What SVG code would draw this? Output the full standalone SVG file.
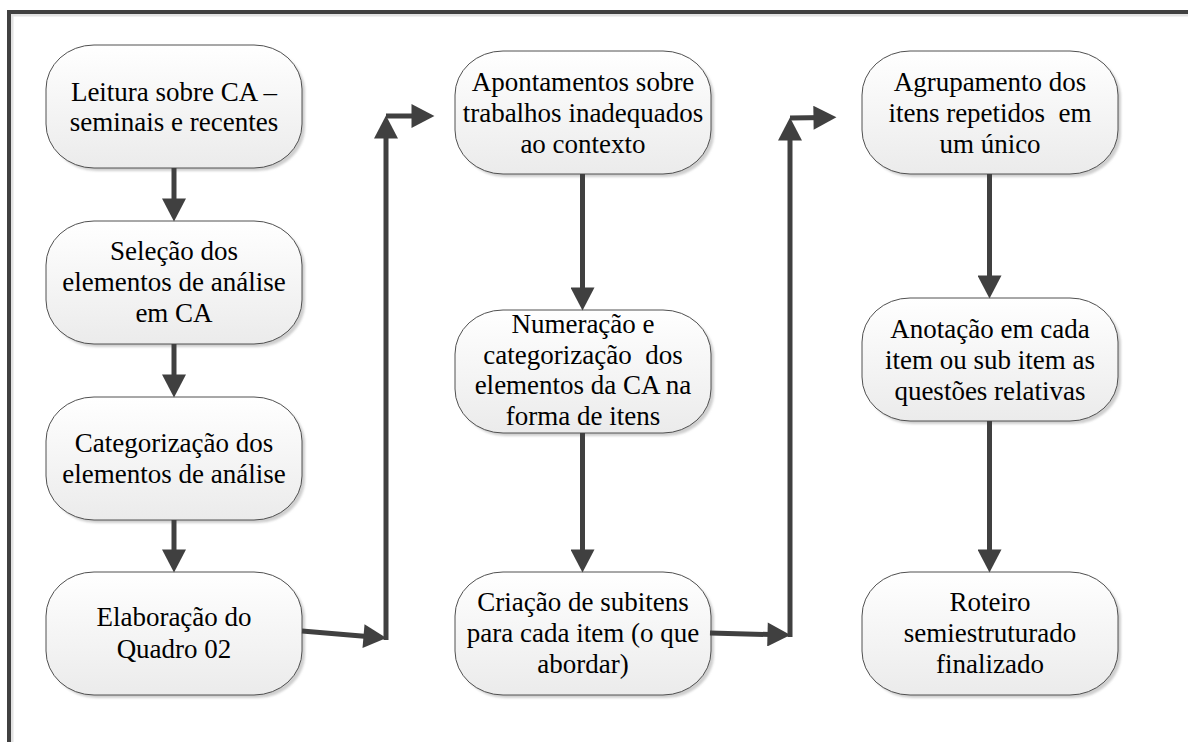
<svg xmlns="http://www.w3.org/2000/svg" width="1188" height="742" viewBox="0 0 1188 742">
<defs>
<linearGradient id="g" x1="0" y1="0" x2="0" y2="1">
<stop offset="0" stop-color="#ffffff"/>
<stop offset="1" stop-color="#ebebeb"/>
</linearGradient>
<filter id="b" x="-10%" y="-10%" width="120%" height="120%"><feGaussianBlur stdDeviation="1.2"/></filter>
<marker id="ah" markerUnits="userSpaceOnUse" markerWidth="24" markerHeight="24" viewBox="0 0 22 23" refX="12" refY="11.5" orient="auto">
<path d="M0,0 L22,11.5 L0,23 z" fill="#404040"/>
</marker>
<rect id="sh" width="256" height="123" rx="48" ry="44" fill="#cfcfcf" filter="url(#b)"/>
<rect id="bx" width="256" height="123" rx="48" ry="44" fill="url(#g)" stroke="#505050" stroke-width="1"/>
</defs>
<rect width="1188" height="742" fill="#fff"/>
<g id="frame">
<line x1="13" y1="15" x2="1188" y2="15" stroke="#e2e2e2" stroke-width="3"/>
<line x1="12" y1="14" x2="12" y2="742" stroke="#e2e2e2" stroke-width="3"/>
<path d="M9,742 L9,12 L1188,12" stroke="#404040" stroke-width="4" fill="none"/>
</g>
<g id="n1"><use href="#sh" x="49" y="48"/><use href="#bx" x="46" y="45"/>
<text style="font-family:'Liberation Serif','Times New Roman',Tinos,serif !important;font-size:27px" text-anchor="middle" x="174" y="101">Leitura sobre CA –</text><text style="font-family:'Liberation Serif','Times New Roman',Tinos,serif !important;font-size:27px" text-anchor="middle" x="174" y="131">seminais e recentes</text></g>
<g id="n2"><use href="#sh" x="49" y="224"/><use href="#bx" x="46" y="221"/>
<text style="font-family:'Liberation Serif','Times New Roman',Tinos,serif !important;font-size:27px" text-anchor="middle" x="174" y="260">Seleção dos</text><text style="font-family:'Liberation Serif','Times New Roman',Tinos,serif !important;font-size:27px" text-anchor="middle" x="174" y="291">elementos de análise</text><text style="font-family:'Liberation Serif','Times New Roman',Tinos,serif !important;font-size:27px" text-anchor="middle" x="174" y="322">em CA</text></g>
<g id="n3"><use href="#sh" x="49" y="400"/><use href="#bx" x="46" y="397"/>
<text style="font-family:'Liberation Serif','Times New Roman',Tinos,serif !important;font-size:27px" text-anchor="middle" x="174" y="452">Categorização dos</text><text style="font-family:'Liberation Serif','Times New Roman',Tinos,serif !important;font-size:27px" text-anchor="middle" x="174" y="483">elementos de análise</text></g>
<g id="n4"><use href="#sh" x="49" y="575"/><use href="#bx" x="46" y="572"/>
<text style="font-family:'Liberation Serif','Times New Roman',Tinos,serif !important;font-size:27px" text-anchor="middle" x="174" y="626">Elaboração do</text><text style="font-family:'Liberation Serif','Times New Roman',Tinos,serif !important;font-size:27px" text-anchor="middle" x="174" y="658">Quadro 02</text></g>
<g id="n5"><use href="#sh" x="458" y="54"/><use href="#bx" x="455" y="51"/>
<text style="font-family:'Liberation Serif','Times New Roman',Tinos,serif !important;font-size:27px" text-anchor="middle" x="583" y="90.5">Apontamentos sobre</text><text style="font-family:'Liberation Serif','Times New Roman',Tinos,serif !important;font-size:27px" text-anchor="middle" x="583" y="121.5">trabalhos inadequados</text><text style="font-family:'Liberation Serif','Times New Roman',Tinos,serif !important;font-size:27px" text-anchor="middle" x="583" y="152.5">ao contexto</text></g>
<g id="n6"><use href="#sh" x="458" y="313"/><use href="#bx" x="455" y="310"/>
<text style="font-family:'Liberation Serif','Times New Roman',Tinos,serif !important;font-size:27px" text-anchor="middle" x="583" y="333">Numeração e</text><text style="font-family:'Liberation Serif','Times New Roman',Tinos,serif !important;font-size:27px" text-anchor="middle" xml:space="preserve" x="583" y="363.5">categorização  dos</text><text style="font-family:'Liberation Serif','Times New Roman',Tinos,serif !important;font-size:27px" text-anchor="middle" x="583" y="394">elementos da CA na</text><text style="font-family:'Liberation Serif','Times New Roman',Tinos,serif !important;font-size:27px" text-anchor="middle" x="583" y="424.5">forma de itens</text></g>
<g id="n7"><use href="#sh" x="458" y="575"/><use href="#bx" x="455" y="572"/>
<text style="font-family:'Liberation Serif','Times New Roman',Tinos,serif !important;font-size:27px" text-anchor="middle" x="583" y="610.5">Criação de subitens</text><text style="font-family:'Liberation Serif','Times New Roman',Tinos,serif !important;font-size:27px" text-anchor="middle" x="583" y="642">para cada item (o que</text><text style="font-family:'Liberation Serif','Times New Roman',Tinos,serif !important;font-size:27px" text-anchor="middle" x="583" y="672.5">abordar)</text></g>
<g id="n8"><use href="#sh" x="865" y="54"/><use href="#bx" x="862" y="51"/>
<text style="font-family:'Liberation Serif','Times New Roman',Tinos,serif !important;font-size:27px" text-anchor="middle" x="990" y="90.5">Agrupamento dos</text><text style="font-family:'Liberation Serif','Times New Roman',Tinos,serif !important;font-size:27px" text-anchor="middle" xml:space="preserve" x="990" y="121.5">itens repetidos  em</text><text style="font-family:'Liberation Serif','Times New Roman',Tinos,serif !important;font-size:27px" text-anchor="middle" x="990" y="152.5">um único</text></g>
<g id="n9"><use href="#sh" x="865" y="301"/><use href="#bx" x="862" y="298"/>
<text style="font-family:'Liberation Serif','Times New Roman',Tinos,serif !important;font-size:27px" text-anchor="middle" x="990" y="337.5">Anotação em cada</text><text style="font-family:'Liberation Serif','Times New Roman',Tinos,serif !important;font-size:27px" text-anchor="middle" x="990" y="368.5">item ou sub item as</text><text style="font-family:'Liberation Serif','Times New Roman',Tinos,serif !important;font-size:27px" text-anchor="middle" x="990" y="399.5">questões relativas</text></g>
<g id="n10"><use href="#sh" x="865" y="575"/><use href="#bx" x="862" y="572"/>
<text style="font-family:'Liberation Serif','Times New Roman',Tinos,serif !important;font-size:27px" text-anchor="middle" x="990" y="610.5">Roteiro</text><text style="font-family:'Liberation Serif','Times New Roman',Tinos,serif !important;font-size:27px" text-anchor="middle" x="990" y="642">semiestruturado</text><text style="font-family:'Liberation Serif','Times New Roman',Tinos,serif !important;font-size:27px" text-anchor="middle" x="990" y="672.5">finalizado</text></g>
<g id="connectors" stroke="#404040" stroke-width="5" fill="none" marker-end="url(#ah)">
<line x1="174" y1="168" x2="174" y2="211"/>
<line x1="174" y1="344" x2="174" y2="387"/>
<line x1="174" y1="520" x2="174" y2="562"/>
<line x1="582.5" y1="174" x2="582.5" y2="300"/>
<line x1="582.5" y1="433" x2="582.5" y2="562"/>
<line x1="989.5" y1="174" x2="989.5" y2="288"/>
<line x1="989.5" y1="421" x2="989.5" y2="562"/>
<line x1="302" y1="631" x2="376" y2="637.2"/>
<line x1="386" y1="640" x2="386" y2="126"/>
<line x1="386" y1="116" x2="424" y2="116"/>
<line x1="710" y1="633" x2="780" y2="634.8"/>
<line x1="790" y1="637" x2="790" y2="128"/>
<line x1="790" y1="118" x2="826" y2="117.5"/>
</g>
</svg>
